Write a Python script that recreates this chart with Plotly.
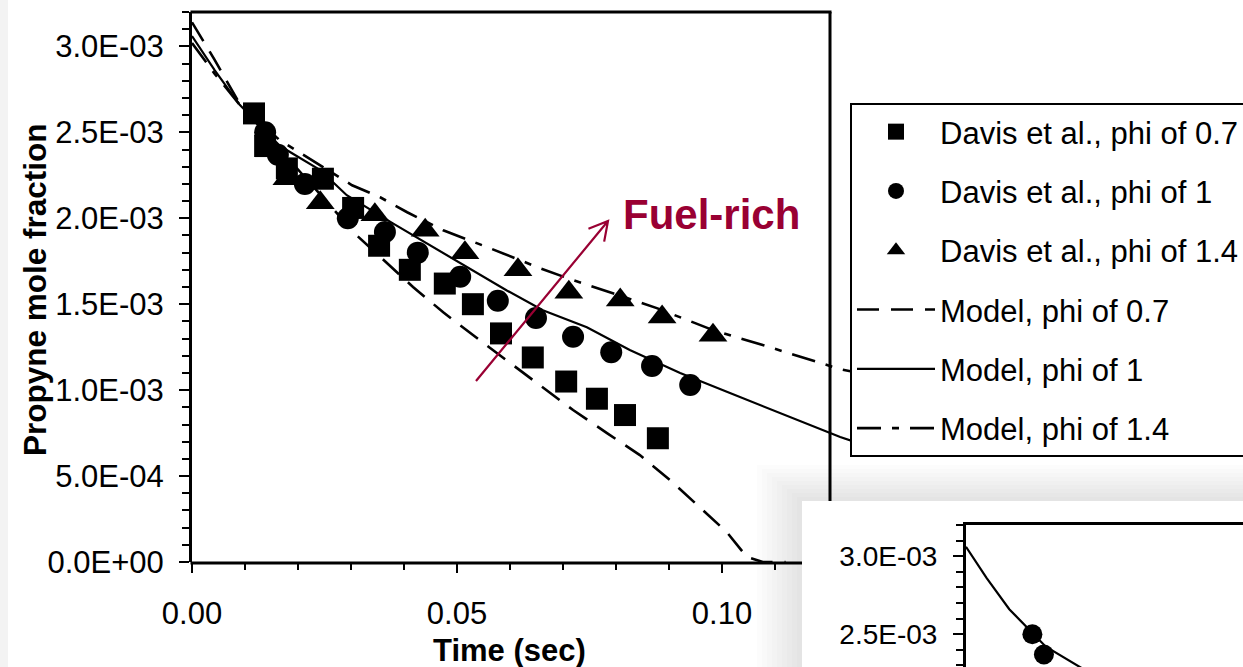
import math
import plotly.graph_objects as go

W, H = 1243, 667

# ---------------- data ----------------
sq_t = [0.0117, 0.0138, 0.0179, 0.0247, 0.0304, 0.0353, 0.0411, 0.0477, 0.0530, 0.0583,
        0.0643, 0.0706, 0.0764, 0.0817, 0.0879]
sq_y = [2.61e-3, 2.42e-3, 2.29e-3, 2.23e-3, 2.06e-3, 1.84e-3, 1.70e-3, 1.62e-3, 1.50e-3, 1.33e-3,
        1.19e-3, 1.05e-3, 0.95e-3, 0.855e-3, 0.72e-3]

ci_t = [0.0138, 0.0162, 0.0213, 0.0294, 0.0364, 0.0426, 0.0506, 0.0577, 0.0649, 0.0719,
        0.0791, 0.0868, 0.0940]
ci_y = [2.50e-3, 2.37e-3, 2.20e-3, 2.00e-3, 1.92e-3, 1.80e-3, 1.66e-3, 1.52e-3, 1.42e-3, 1.31e-3,
        1.22e-3, 1.14e-3, 1.03e-3]

tr_t = [0.0179, 0.0242, 0.0345, 0.0440, 0.0515, 0.0615, 0.0711, 0.0808, 0.0887, 0.0983]
tr_y = [2.23e-3, 2.09e-3, 2.02e-3, 1.93e-3, 1.80e-3, 1.70e-3, 1.57e-3, 1.525e-3, 1.426e-3, 1.32e-3]

m07_t = [0, 0.0043, 0.0091, 0.0311, 0.0417, 0.0474, 0.0543, 0.0606, 0.0662, 0.0719, 0.0783,
         0.0845, 0.0902, 0.0958, 0.1009, 0.1047, 0.1077, 0.112]
m07_y = [3.14e-3, 2.92e-3, 2.66e-3, 1.90e-3, 1.60e-3, 1.453e-3, 1.29e-3, 1.145e-3, 1.017e-3,
         0.884e-3, 0.75e-3, 0.622e-3, 0.477e-3, 0.32e-3, 0.174e-3, 0.029e-3, 0.0, 0.0]

m10_t = [0, 0.0043, 0.009, 0.0166, 0.0242, 0.0292, 0.0379, 0.0506, 0.0594, 0.0662, 0.0745,
         0.0826, 0.0921, 0.1015, 0.111, 0.1223, 0.1245]
m10_y = [3.06e-3, 2.86e-3, 2.66e-3, 2.42e-3, 2.28e-3, 2.134e-3, 1.97e-3, 1.74e-3, 1.58e-3,
         1.465e-3, 1.366e-3, 1.233e-3, 1.10e-3, 0.983e-3, 0.866e-3, 0.727e-3, 0.705e-3]

m14_t = [0, 0.0043, 0.009, 0.0166, 0.0242, 0.0302, 0.0355, 0.0406, 0.0474, 0.0562, 0.0657,
         0.0719, 0.0794, 0.0877, 0.0983, 0.109, 0.1223, 0.1245]
m14_y = [3.02e-3, 2.84e-3, 2.66e-3, 2.453e-3, 2.308e-3, 2.192e-3, 2.122e-3, 2.035e-3, 1.93e-3,
         1.826e-3, 1.709e-3, 1.64e-3, 1.564e-3, 1.477e-3, 1.349e-3, 1.25e-3, 1.122e-3, 1.108e-3]

y_tickvals = [0, 5e-4, 1e-3, 1.5e-3, 2e-3, 2.5e-3, 3e-3]
y_ticktext = ["0.0E+00", "5.0E-04", "1.0E-03", "1.5E-03", "2.0E-03", "2.5E-03", "3.0E-03"]
x_tickvals = [0.0, 0.05, 0.10]
x_ticktext = ["0.00", "0.05", "0.10"]
x_minorvals = [0.01, 0.02, 0.03, 0.04, 0.06, 0.07, 0.08, 0.09, 0.11]
inset_tickvals = [2.5e-3, 3e-3]
inset_ticktext = ["2.5E-03", "3.0E-03"]

names = ["Davis et al., phi of 0.7", "Davis et al., phi of 1", "Davis et al., phi of 1.4",
         "Model, phi of 0.7", "Model, phi of 1", "Model, phi of 1.4"]

# ---------------- layout geometry (pixels) ----------------
FONT = "Arial, 'Liberation Sans', sans-serif"
PL, PT, PB = 192, 12, 562          # main plot left / top / bottom
PR_FRAME = 830                     # main frame right border
PR_AREA = 852                      # drawing area right edge (under legend)
XS = 5300.0                        # px per unit time
YMAX = 3.2e-3
PANEL_X, PANEL_Y = 802, 501        # inset panel top-left
IN_L, IN_T = 966, 525              # inset plot left/top
IN_YS = 156000.0                   # inset px per unit y
IN_XS = IN_YS * XS / ((PB - PT) / YMAX)


def px(x):
    return x / W


def py(y):
    return 1 - y / H


fig = go.Figure()

mk = dict(color="black")
fig.add_trace(go.Scatter(x=sq_t, y=sq_y, mode="markers", name=names[0], legendgroup="a",
                         marker=dict(symbol="square", size=22, **mk)))
fig.add_trace(go.Scatter(x=ci_t, y=ci_y, mode="markers", name=names[1], legendgroup="b",
                         marker=dict(symbol="circle", size=22, **mk)))
fig.add_trace(go.Scatter(x=tr_t, y=tr_y, mode="markers", name=names[2], legendgroup="c",
                         marker=dict(symbol="triangle-up", size=25, **mk)))
fig.add_trace(go.Scatter(x=m07_t, y=m07_y, mode="lines", name=names[3], legendgroup="d",
                         line=dict(color="black", width=2.6, dash="22px,12px")))
fig.add_trace(go.Scatter(x=m10_t, y=m10_y, mode="lines", name=names[4], legendgroup="e",
                         line=dict(color="black", width=2.2)))
fig.add_trace(go.Scatter(x=m14_t, y=m14_y, mode="lines", name=names[5], legendgroup="f",
                         line=dict(color="black", width=2.6, dash="24px,11px,7px,11px")))

# inset (partially visible second chart)
fig.add_trace(go.Scatter(x=m10_t, y=m10_y, mode="lines", showlegend=False,
                         xaxis="x2", yaxis="y2", line=dict(color="black", width=2.2)))
fig.add_trace(go.Scatter(x=ci_t, y=ci_y, mode="markers", showlegend=False,
                         xaxis="x2", yaxis="y2", marker=dict(symbol="circle", size=20, color="black")))

shapes = []
# left gray strip
shapes.append(dict(type="rect", xref="paper", yref="paper", x0=0, x1=px(8), y0=0, y1=1,
                   fillcolor="#f3f3f3", line=dict(width=0), layer="below"))
# shadow of the inset panel
for k in range(1, 10):
    shapes.append(dict(type="rect", xref="paper", yref="paper",
                       x0=px(PANEL_X - 5 * k), y0=0, x1=1, y1=py(PANEL_Y - 4 * k),
                       fillcolor="rgba(0,0,0,0.013)", line=dict(width=0), layer="below"))
# inset panel
shapes.append(dict(type="rect", xref="paper", yref="paper",
                   x0=px(PANEL_X), y0=0, x1=1, y1=py(PANEL_Y),
                   fillcolor="white", line=dict(width=0), layer="below"))
# main frame (top, right, bottom) - truncated where the inset panel covers it
fr = dict(color="black", width=3)
shapes.append(dict(type="line", xref="paper", yref="paper", x0=px(PL - 1.5), x1=px(PR_FRAME + 1.5),
                   y0=py(PT), y1=py(PT), line=fr, layer="below"))
shapes.append(dict(type="line", xref="paper", yref="paper", x0=px(PR_FRAME), x1=px(PR_FRAME),
                   y0=py(PT), y1=py(PANEL_Y), line=fr, layer="below"))
shapes.append(dict(type="line", xref="paper", yref="paper", x0=px(PL - 1.5), x1=px(PANEL_X),
                   y0=py(PB + 1), y1=py(PB + 1), line=fr, layer="below"))

# "Fuel-rich" arrow with open V head
tail = (476, 381)
tip = (608, 221)
dx, dy = tail[0] - tip[0], tail[1] - tip[1]
L = math.hypot(dx, dy)
ux, uy = dx / L, dy / L
wings = []
for a in (math.radians(29), math.radians(-29)):
    wx = ux * math.cos(a) - uy * math.sin(a)
    wy = ux * math.sin(a) + uy * math.cos(a)
    wings.append((tip[0] + 21 * wx, tip[1] + 21 * wy))
path = (f"M {px(tail[0])},{py(tail[1])} L {px(tip[0])},{py(tip[1])} "
        f"M {px(wings[0][0])},{py(wings[0][1])} L {px(tip[0])},{py(tip[1])} "
        f"L {px(wings[1][0])},{py(wings[1][1])}")
shapes.append(dict(type="path", xref="paper", yref="paper", path=path,
                   line=dict(color="#990033", width=2.2), layer="above"))

annotations = [
    dict(text="<b>Time (sec)</b>", xref="paper", yref="paper", x=px(509), y=py(650),
         xanchor="center", yanchor="middle", showarrow=False,
         font=dict(family=FONT, size=31, color="black")),
    dict(text="<b>Propyne mole fraction</b>", xref="paper", yref="paper", x=px(35), y=py(290),
         xanchor="center", yanchor="middle", showarrow=False, textangle=-90,
         font=dict(family=FONT, size=31.5, color="black")),
    dict(text="<b>Fuel-rich</b>", xref="paper", yref="paper", x=px(711), y=py(214),
         xanchor="center", yanchor="middle", showarrow=False,
         font=dict(family=FONT, size=42, color="#990033")),
]

tickfont = dict(family=FONT, size=31, color="black")

fig.update_layout(
    width=W, height=H,
    margin=dict(l=0, r=0, t=0, b=0, autoexpand=False),
    paper_bgcolor="white",
    plot_bgcolor="rgba(0,0,0,0)",
    font=dict(family=FONT, color="black"),
    shapes=shapes,
    annotations=annotations,
    xaxis=dict(domain=[px(PL), px(PR_AREA)], range=[0, (PR_AREA - PL) / XS],
               showline=False, showgrid=False, zeroline=False, automargin=False,
               tickmode="array", tickvals=x_tickvals, ticktext=x_ticktext,
               ticks="outside", ticklen=10, tickwidth=2, tickcolor="black",
               ticklabelstandoff=14, tickfont=tickfont,
               minor=dict(tickmode="array", tickvals=x_minorvals, ticks="outside",
                          ticklen=7, tickwidth=2, tickcolor="black"),
               fixedrange=True),
    yaxis=dict(domain=[py(PB), py(PT)], range=[0, YMAX],
               showline=True, linewidth=3, linecolor="black",
               showgrid=False, zeroline=False, automargin=False,
               tickmode="array", tickvals=y_tickvals, ticktext=y_ticktext,
               ticks="outside", ticklen=10, tickwidth=2, tickcolor="black",
               ticklabelstandoff=9, tickfont=tickfont,
               minor=dict(dtick=1e-4, tick0=0, ticks="outside", ticklen=7, tickwidth=2,
                          tickcolor="black"),
               fixedrange=True),
    xaxis2=dict(domain=[px(IN_L), 1], range=[0, (W - IN_L) / IN_XS], anchor="y2",
                side="top", showline=True, linewidth=3, linecolor="black",
                showgrid=False, zeroline=False, ticks="", showticklabels=False,
                automargin=False, fixedrange=True),
    yaxis2=dict(domain=[0, py(IN_T)], range=[YMAX - (H - IN_T) / IN_YS, YMAX], anchor="x2",
                showline=True, linewidth=3, linecolor="black",
                showgrid=False, zeroline=False, automargin=False,
                tickmode="array", tickvals=inset_tickvals, ticktext=inset_ticktext,
                ticks="outside", ticklen=10, tickwidth=2, tickcolor="black",
                ticklabelstandoff=10, tickfont=dict(family=FONT, size=28, color="black"),
                minor=dict(dtick=1e-4, tick0=0, ticks="outside", ticklen=7, tickwidth=2,
                           tickcolor="black"),
                fixedrange=True),
    showlegend=True,
    legend=dict(x=px(850), y=py(103), xanchor="left", yanchor="top",
                bgcolor="white", bordercolor="black", borderwidth=2,
                font=dict(family=FONT, size=31, color="black"),
                traceorder="grouped", tracegroupgap=16, itemwidth=78,
                itemsizing="trace"),
)

fig.write_html("out.html")
